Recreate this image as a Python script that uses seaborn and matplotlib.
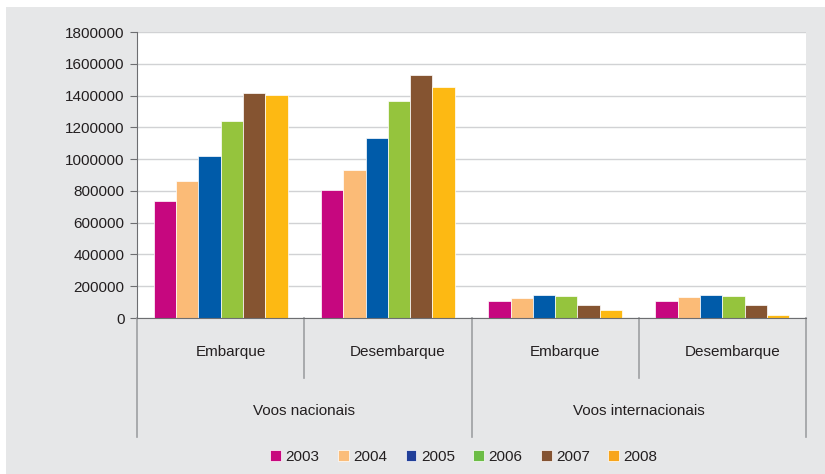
import pandas as pd
import matplotlib
matplotlib.use("Agg")
import matplotlib.pyplot as plt
import matplotlib.transforms as mtransforms
import seaborn as sns
from matplotlib.patches import Patch, Rectangle

# dados
grupos = ["Nac Embarque", "Nac Desembarque", "Int Embarque", "Int Desembarque"]
anos = ["2003", "2004", "2005", "2006", "2007", "2008"]
v2003 = [736000, 806000, 105000, 105000]
v2004 = [862000, 931000, 128000, 132000]
v2005 = [1020000, 1133000, 145000, 145000]
v2006 = [1240000, 1366000, 140000, 140000]
v2007 = [1416000, 1529000, 82000, 84000]
v2008 = [1403000, 1454000, 48000, 19000]
sub_labels = ["Embarque", "Desembarque", "Embarque", "Desembarque"]
top_labels = ["Voos nacionais", "Voos internacionais"]

cores_barras = ["#c6077f", "#fbbb77", "#005ba9", "#95c43d", "#855431", "#fdb913"]
cores_legenda = ["#c8077e", "#fbbd7a", "#213f99", "#6cbd45", "#845332", "#f8a51b"]

rows = []
for ano, vals in zip(anos, [v2003, v2004, v2005, v2006, v2007, v2008]):
    for g, v in zip(grupos, vals):
        rows.append({"grupo": g, "ano": ano, "valor": v})
df = pd.DataFrame(rows)

plt.rcParams["font.family"] = ["Liberation Sans", "DejaVu Sans"]
W, H = 825, 474
fig = plt.figure(figsize=(W / 100, H / 100), dpi=100, facecolor="white")
# fundo cinza
fig.patches.append(Rectangle((6 / W, 0), 1 - 6 / W, 1 - 7 / H, transform=fig.transFigure,
                             facecolor="#e6e7e8", edgecolor="none", zorder=-10))

x0, x1, y0, y1 = 137, 806, 318, 32
ax = fig.add_axes([x0 / W, 1 - y0 / H, (x1 - x0) / W, (y0 - y1) / H])
ax.set_facecolor("white")

sns.barplot(data=df, x="grupo", y="valor", hue="ano", order=grupos, hue_order=anos,
            palette=cores_barras, saturation=1, ax=ax, width=0.8, edgecolor="white",
            linewidth=0.5, legend=False)

ax.set_ylim(0, 1800000)
ax.set_xlim(-0.5, 3.5)
ax.set_yticks(range(0, 1800001, 200000))
ax.set_yticklabels([str(v) for v in range(0, 1800001, 200000)], fontsize=11, color="#231f20")
ax.set_xticks([])
ax.set_xlabel("")
ax.set_ylabel("")
ax.grid(axis="y", color="#d1d2d4", linewidth=1)
ax.set_axisbelow(True)
for s in ["top", "right"]:
    ax.spines[s].set_visible(False)
ax.spines["left"].set_color("#6d6e71")
ax.spines["bottom"].set_color("#6d6e71")
ax.tick_params(axis="y", length=5, color="#6d6e71", pad=4)

# rótulos hierárquicos
blend = mtransforms.blended_transform_factory(ax.transData, fig.transFigure)
def fy(py):
    return 1 - py / H

for xs in [-0.5, 1.5, 3.5]:
    ax.plot([xs, xs], [fy(318), fy(437)], transform=blend, color="#9d9fa2", lw=1.2, clip_on=False)
for xs in [0.5, 2.5]:
    ax.plot([xs, xs], [fy(318), fy(378)], transform=blend, color="#9d9fa2", lw=1.2, clip_on=False)
sub_tr = blend + mtransforms.ScaledTranslation(10 / 100, 0, fig.dpi_scale_trans)
for i, lab in enumerate(sub_labels):
    ax.text(i, fy(352), lab, transform=sub_tr, ha="center", va="center", fontsize=11, color="#231f20")
for i, lab in enumerate(top_labels):
    ax.text(0.5 + 2 * i, fy(411), lab, transform=blend, ha="center", va="center", fontsize=11, color="#231f20")

handles = [Patch(facecolor=c, edgecolor="white", linewidth=0.5) for c in cores_legenda]
fig.legend(handles, anos, loc="center", bbox_to_anchor=(464 / W, fy(457)), ncol=6, frameon=False,
           fontsize=11, handlelength=0.7, handleheight=0.7, handletextpad=0.3, columnspacing=1.2,
           labelcolor="#231f20")

fig.savefig("out.png", dpi=100, facecolor="white")
